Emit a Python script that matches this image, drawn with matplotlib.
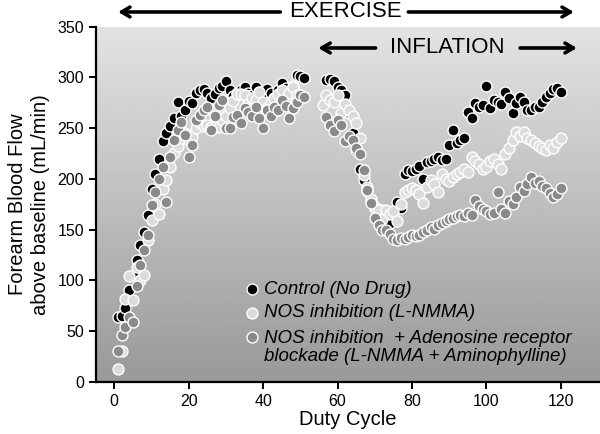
import numpy as np
import matplotlib.pyplot as plt

plt.rcParams['font.family'] = ['Liberation Sans', 'DejaVu Sans']

# Control (No Drug)
ctrl_x = list(range(1, 52)) + list(range(57, 121))
ctrl_y = [64, 65, 73, 90, 105, 120, 135, 148, 164, 190, 205, 220, 237, 245, 252, 260, 276, 262, 268, 277,
          275, 285, 288, 289, 285, 280, 284, 290, 292, 296, 288, 282, 285, 288, 291, 285, 283, 291, 286, 282,
          289, 285, 280, 288, 294, 290, 286, 292, 302, 301, 299,
          297, 298, 296, 291, 288, 283, 265, 245, 228, 210, 199, 188, 178, 170, 165, 169, 160, 156, 165, 177,
          171, 205, 209, 208, 210, 213, 200, 217, 218, 220, 222, 219, 220, 233, 248, 235, 238, 240, 266, 260,
          275, 271, 273, 292, 270, 278, 276, 274, 286, 280, 265, 275, 281, 276, 268, 268, 271, 271, 276, 281,
          285, 289, 290, 286]

# NOS inhibition (L-NMMA)
nos_x = list(range(1, 51)) + list(range(56, 121))
nos_y = [13, 30, 82, 104, 81, 113, 100, 105, 140, 159, 175, 165, 190, 199, 212, 225, 232, 240, 245, 238,
         241, 250, 255, 252, 253, 251, 251, 251, 258, 262, 270, 277, 284, 284, 283, 274, 280, 278, 286, 276,
         270, 275, 280, 284, 288, 278, 285, 291, 283, 283,
         273, 283, 278, 276, 283, 265, 274, 268, 262, 255, 240, 204, 192, 180, 172, 169, 160, 169, 165, 168,
         158, 175, 187, 189, 191, 189, 185, 176, 192, 199, 195, 187, 205, 200, 198, 202, 205, 207, 210, 207,
         222, 218, 215, 210, 212, 218, 220, 215, 210, 224, 230, 238, 246, 242, 246, 240, 238, 235, 232, 230,
         228, 233, 230, 236, 240]

# NOS inhibition + Adenosine receptor blockade (L-NMMA + Aminophylline)
amino_x = list(range(1, 52)) + list(range(57, 121))
amino_y = [30, 46, 54, 64, 59, 94, 115, 130, 145, 174, 187, 200, 212, 177, 222, 238, 248, 256, 243, 222,
           233, 258, 263, 268, 271, 248, 262, 273, 278, 250, 250, 261, 263, 255, 270, 266, 262, 271, 260, 250,
           268, 262, 271, 268, 278, 272, 260, 270, 276, 283, 281,
           261, 253, 247, 258, 253, 237, 242, 238, 230, 224, 209, 189, 176, 161, 154, 150, 150, 146, 141, 140,
           142, 141, 143, 145, 144, 145, 148, 150, 153, 151, 154, 156, 158, 160, 161, 163, 164, 163, 166, 164,
           179, 173, 170, 168, 165, 166, 187, 170, 166, 178, 175, 182, 192, 188, 195, 202, 196, 198, 193, 191,
           186, 182, 185, 191]

fig = plt.figure(figsize=(6, 4.34), dpi=100)
ax = fig.add_axes([0.1595, 0.1205, 0.8405, 0.818])
ax.set_xlim(-5, 130.5)
ax.set_ylim(0, 350)

# gray gradient background
grad = np.linspace(0.89, 0.60, 256).reshape(-1, 1)
ax.imshow(grad, cmap='gray', vmin=0, vmax=1, aspect='auto',
          extent=(-5, 130.5, 0, 350), origin='upper', zorder=0)

ms = 62
ax.scatter(ctrl_x, ctrl_y, s=ms, c='black', edgecolors='white', linewidths=1.0, zorder=2)
ax.scatter(nos_x, nos_y, s=ms, c='#dcdcdc', edgecolors='white', linewidths=1.0, zorder=3)
ax.scatter(amino_x, amino_y, s=ms, c='#8a8a8a', edgecolors='white', linewidths=1.0, zorder=4)

for s in ['top', 'right']:
    ax.spines[s].set_visible(False)
for s in ['left', 'bottom']:
    ax.spines[s].set_linewidth(1.6)
ax.set_xticks(range(0, 121, 20))
ax.set_yticks(range(0, 351, 50))
ax.tick_params(direction='out', length=5, width=1.4, labelsize=11.5)
ax.set_xlabel('Duty Cycle', fontsize=14.5, labelpad=1)
ax.set_ylabel('Forearm Blood Flow\nabove baseline (mL/min)', fontsize=14.5, labelpad=5, linespacing=1.3)

# legend
leg_items = [('black', 'Control (No Drug)', 0.261, 0.261),
             ('#dcdcdc', 'NOS inhibition (L-NMMA)', 0.194, 0.194),
             ('#8a8a8a', 'NOS inhibition  + Adenosine receptor\nblockade (L-NMMA + Aminophylline)', 0.126, 0.096)]
for col, lab, ym, yt in leg_items:
    ax.scatter([0.309], [ym], s=ms, c=col, edgecolors='white', linewidths=1.0,
               transform=ax.transAxes, zorder=5, clip_on=False)
    ax.text(0.333, yt, lab, transform=ax.transAxes, fontsize=13.5, style='italic',
            va='center', ha='left', linespacing=1.05)

# arrows
arw = dict(arrowstyle='->, head_length=0.6, head_width=0.35', lw=2.6, color='black', shrinkA=0, shrinkB=0)
ax.annotate('', xy=(1, 364.5), xytext=(44.6, 364.5), arrowprops=arw, annotation_clip=False)
ax.annotate('', xy=(123.5, 364.5), xytext=(79, 364.5), arrowprops=arw, annotation_clip=False)
ax.text(62, 364.5, 'EXERCISE', fontsize=16, ha='center', va='center', clip_on=False)
ax.annotate('', xy=(54.8, 329), xytext=(70.2, 329), arrowprops=arw, annotation_clip=False)
ax.annotate('', xy=(124.3, 329), xytext=(109, 329), arrowprops=arw, annotation_clip=False)
ax.text(89.5, 329, 'INFLATION', fontsize=16, ha='center', va='center')

fig.savefig('out.png', dpi=100)
